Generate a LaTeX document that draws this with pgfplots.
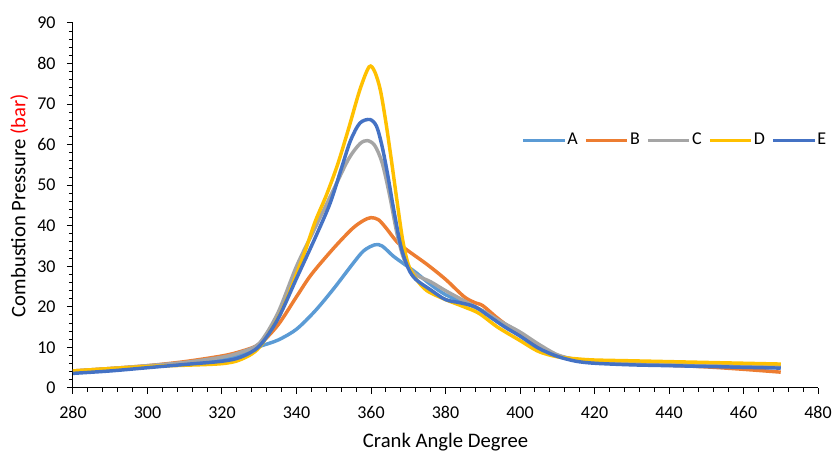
\documentclass[border=0pt]{standalone}
\usepackage{pgfplots}
\pgfplotsset{compat=1.18}
\usepackage{fontspec}
\setmainfont{Carlito}
\definecolor{cA}{HTML}{5B9BD5}
\definecolor{cB}{HTML}{ED7D31}
\definecolor{cC}{HTML}{A5A5A5}
\definecolor{cD}{HTML}{FFC000}
\definecolor{cE}{HTML}{4472C4}
\begin{document}
\begin{tikzpicture}
\begin{axis}[
  scale only axis,
  width=558.75pt, height=273.75pt,
  xmin=280, xmax=480, ymin=0, ymax=90,
  xtick={280,300,...,480}, ytick={0,10,...,90},
  minor x tick num=4, minor y tick num=4,
  axis x line*=bottom, axis y line*=left,
  axis line style={-, black, line width=0.75pt},
  tick style={black, line width=0.75pt},
  tick align=outside,
  major tick length=4.5pt, minor tick length=3pt,
  /pgf/number format/assume math mode=true,
  ticklabel style={font=\fontsize{13.5pt}{16pt}\selectfont},
  xticklabel shift=6pt, yticklabel shift=5pt,
  xlabel={Crank Angle Degree},
  ylabel={Combustion Pressure \textcolor{red}{(bar)}},
  xlabel shift=4pt,
  label style={font=\fontsize{15.5pt}{18pt}\selectfont},
  clip=false,
  every axis plot/.append style={line width=2.6pt, smooth, tension=0.5, no marks},
  legend columns=5,
  legend style={draw=none, fill=none, at={(0.602,0.679)}, anchor=west,
    inner xsep=0pt, inner ysep=0pt,
    font=\fontsize{13.5pt}{16pt}\selectfont,
    nodes={inner xsep=1pt},
    /tikz/every even column/.append style={column sep=4pt}},
  legend image code/.code={\draw[#1, line width=2.2pt] (0pt,0pt) -- (31pt,0pt);},
]
\addplot[cA] coordinates {
(280,3.8)(290,4.4)(300,5.2)(310,5.9)(320,7.0)(325,8.2)(330,10.2)(335,11.8)(340,14.5)(345,19.0)(350,24.5)(355,30.5)(358,33.8)(361,35.3)(363,35.0)(366,32.5)(369,30.5)(372,28.5)(376,25.5)(380,23.0)(385,21.0)(390,19.0)(395,16.3)(400,13.5)(405,10.6)(410,8.0)(415,7.0)(420,6.6)(430,6.1)(440,5.7)(450,5.5)(460,5.3)(470,5.1)};
\addlegendentry{A}
\addplot[cB] coordinates {
(280,4.2)(290,4.8)(300,5.5)(310,6.5)(320,7.9)(325,9.0)(330,10.8)(335,15.5)(340,22.5)(344,28.0)(350,34.5)(355,39.3)(358,41.3)(360,42.0)(362,41.5)(364,39.5)(367,36.0)(370,33.8)(375,30.5)(380,26.8)(385,22.5)(388,21.0)(390,20.3)(394,17.2)(400,13.0)(405,10.2)(410,8.0)(415,7.0)(420,6.5)(430,6.0)(440,5.6)(450,5.2)(460,4.6)(470,3.9)};
\addlegendentry{B}
\addplot[cC] coordinates {
(280,4.2)(290,4.8)(300,5.5)(310,6.3)(320,7.6)(325,8.8)(330,11.0)(335,18.5)(340,30.0)(345,39.5)(350,49.0)(354,56.5)(357,60.2)(359,61.0)(361,59.8)(363,55.5)(365,47.5)(367,38.0)(369,31.5)(372,28.0)(376,26.2)(380,24.0)(385,21.5)(390,19.0)(395,16.3)(400,13.8)(405,10.8)(410,8.2)(415,7.0)(420,6.6)(430,6.2)(440,6.0)(450,5.8)(460,5.6)(470,5.4)};
\addlegendentry{C}
\addplot[cD] coordinates {
(280,4.2)(290,4.8)(300,5.3)(310,5.6)(320,6.0)(325,7.0)(330,10.0)(336,19.0)(342,33.0)(345,41.0)(348,47.5)(351,55.0)(354,64.0)(357,73.5)(359.5,79.2)(361,78.0)(362.5,73.5)(364,65.5)(365.5,56.0)(367,46.0)(368.5,36.5)(370,30.5)(372,27.0)(375,24.0)(380,21.8)(385,20.0)(389,18.4)(394,15.0)(400,11.7)(405,9.0)(410,7.7)(415,7.2)(420,6.9)(430,6.7)(440,6.5)(450,6.3)(460,6.1)(470,5.9)};
\addlegendentry{D}
\addplot[cE] coordinates {
(280,3.6)(290,4.2)(300,5.0)(310,5.8)(320,6.6)(325,7.6)(330,10.3)(335,17.0)(340,27.0)(345,37.0)(349,45.5)(352,54.0)(354.5,61.0)(357,65.3)(359.7,66.2)(361.5,64.5)(363,59.5)(364.5,52.5)(366,44.5)(368,35.0)(370,29.5)(372,26.8)(376,24.2)(380,21.8)(384,21.0)(388,20.0)(392,17.5)(396,15.0)(400,12.8)(405,9.8)(410,7.8)(415,6.6)(420,6.1)(430,5.7)(440,5.5)(450,5.3)(460,5.1)(470,4.9)};
\addlegendentry{E}
\end{axis}
\pgfresetboundingbox
\useasboundingbox ([xshift=-54.75pt,yshift=-48pt]current axis.south west) rectangle ([xshift=10.5pt,yshift=17.25pt]current axis.north east);
\end{tikzpicture}
\end{document}
